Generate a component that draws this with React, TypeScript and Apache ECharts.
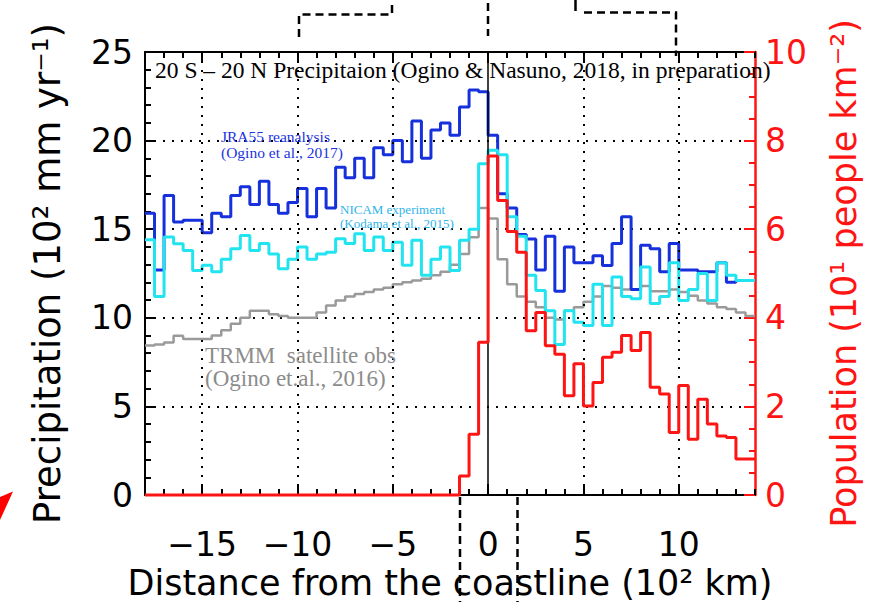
import React, { useEffect, useRef } from "react";
import * as echarts from "echarts";

// Histogram bins: 0.5 (10^2 km) wide, starting at -18
const BIN_START = -18;
const BIN_WIDTH = 0.5;

// JRA55 reanalysis precipitation (10^2 mm/yr)
const jra55 = [
  15.9, 12.7, 16.9, 15.4, 15.5, 15.5, 14.8, 15.9, 15.7, 16.9,
  17.4, 16.4, 17.7, 16.4, 15.9, 16.5, 17.3, 15.7, 17.3, 16.2,
  18.5, 17.9, 19.0, 17.9, 19.6, 19.2, 20.0, 18.8, 21.1, 19.0,
  20.6, 21.0, 20.3, 21.9, 22.85, 22.75, 20.3, 17.0, 16.2, 14.7,
  14.45, 12.7, 14.6, 11.5, 14.0, 13.1, 13.1, 13.5, 12.95, 14.2,
  15.7, 11.6, 14.1, 13.9, 12.6, 14.2, 12.7, 12.7, 12.6, 12.6,
  13.1, 12.0, 12.1, 12.1,
];

// NICAM experiment precipitation (10^2 mm/yr)
const nicam = [
  14.4, 11.2, 14.56, 14.18, 13.8, 12.67, 12.96, 12.6, 13.3, 13.9,
  14.65, 13.8, 14.2, 13.6, 12.77, 13.3, 14.0, 13.3, 13.6, 13.7,
  14.46, 14.2, 14.74, 13.8, 14.56, 13.8, 14.27, 12.96, 14.37, 12.4,
  13.3, 14.0, 12.67, 14.37, 15.0, 18.7, 19.45, 19.2, 15.7, 14.6,
  12.4, 11.54, 10.4, 8.5, 10.4, 9.75, 9.56, 11.9, 9.56, 12.3,
  11.2, 11.07, 12.86, 10.8, 11.2, 13.1, 10.97, 11.6, 12.5, 10.97,
  13.1, 12.4, 12.1, 12.1,
];

// TRMM satellite observation precipitation (10^2 mm/yr)
const trmm = [
  8.43, 8.5, 8.6, 8.98, 8.8, 8.8, 8.8, 9.0, 9.3, 9.66,
  10.0, 10.4, 10.4, 10.2, 10.1, 10.0, 10.0, 10.0, 10.3, 10.7,
  10.97, 11.2, 11.35, 11.45, 11.6, 11.7, 11.9, 12.0, 12.1, 12.2,
  12.4, 12.6, 13.0, 13.6, 14.55, 16.2, 15.6, 13.3, 11.9, 11.2,
  10.9, 10.6, 10.0, 9.9, 10.4, 10.6, 10.9, 11.2, 11.8, 11.7,
  11.6, 11.6, 11.8, 11.5, 11.5, 11.6, 11.45, 11.25, 10.97, 10.8,
  10.6, 10.5, 10.3, 10.1,
];

// Population density (10^1 people/km^2)
const population = [
  0, 0, 0, 0, 0, 0, 0, 0, 0, 0,
  0, 0, 0, 0, 0, 0, 0, 0, 0, 0,
  0, 0, 0, 0, 0, 0, 0, 0, 0, 0,
  0, 0, 0, 0.43, 1.37, 3.45, 7.65, 6.65, 5.95, 5.48,
  3.71, 4.12, 3.37, 3.18, 2.24, 2.96, 2.01, 2.54, 3.11, 3.22,
  3.6, 3.26, 3.67, 2.43, 2.28, 1.41, 2.47, 1.26, 2.16, 1.6,
  1.33, 1.3, 0.81, 0.81,
];

const X_MIN = -18;
const X_MAX = 14;
const X_MAJOR = [-15, -10, -5, 0, 5, 10];
const X_GRID = [-15, -10, -5, 5, 10];

const SANS = "DejaVu Sans";
const SERIF = "Liberation Serif";
const BLUE = "#1630dc";
const CYAN = "#22e4f0";
const GRAY = "#9a9a9a";
const RED = "#ff1414";

function stepData(vals: number[]): number[][] {
  const pts = vals.map((v, i) => [BIN_START + i * BIN_WIDTH, v]);
  pts.push([BIN_START + vals.length * BIN_WIDTH, vals[vals.length - 1]]);
  return pts;
}

const fmtX = (v: number) => (v < 0 ? "\u2212" + Math.abs(v) : String(v));

const dotted = () => ({ type: [2, 7], color: "#000", width: 2 });
const axisLineOf = (color: string, show = true) => ({
  show,
  onZero: false,
  lineStyle: { color, width: 2 },
});
const tickOf = (color: string, length: number, custom?: number[]) => {
  const t: any = { show: true, inside: true, length, lineStyle: { color, width: 2 } };
  if (custom) t.customValues = custom;
  return t;
};

export default function App() {
  const ref = useRef<HTMLDivElement>(null);
  useEffect(() => {
    if (!ref.current) return;
    const chart = echarts.init(ref.current, null, { renderer: "svg" });
    const baseX = () => ({
      type: "value",
      min: X_MIN,
      max: X_MAX,
      gridIndex: 0,
      splitLine: { show: false },
    });
    const option: any = {
      animation: false,
      backgroundColor: "#fff",
      grid: { left: 145, right: 115, top: 52, bottom: 107, outerBoundsMode: "none" },
      xAxis: [
        {
          ...baseX(),
          position: "bottom",
          axisLine: axisLineOf("#000"),
          axisTick: tickOf("#000", 11, X_MAJOR),
          axisLabel: {
            show: true,
            customValues: X_MAJOR,
            formatter: fmtX,
            fontFamily: SANS,
            fontSize: 33,
            color: "#000",
            margin: 33,
          },
          name: "Distance from the coastline (10\u00b2 km)",
          nameLocation: "middle",
          nameGap: 60,
          nameTextStyle: { fontFamily: SANS, fontSize: 35, color: "#000" },
        },
        {
          ...baseX(),
          position: "bottom",
          interval: 1,
          axisLine: axisLineOf("#000", false),
          axisTick: tickOf("#000", 6),
          axisLabel: { show: false },
        },
        {
          ...baseX(),
          position: "top",
          axisLine: axisLineOf("#000"),
          axisTick: tickOf("#000", 11, X_MAJOR),
          axisLabel: { show: false },
        },
        {
          ...baseX(),
          position: "top",
          interval: 1,
          axisLine: axisLineOf("#000", false),
          axisTick: tickOf("#000", 6),
          axisLabel: { show: false },
        },
      ],
      yAxis: [
        {
          type: "value",
          position: "left",
          min: 0,
          max: 25,
          interval: 5,
          axisLine: axisLineOf("#000"),
          axisTick: tickOf("#000", 11),
          minorTick: {
            show: true,
            splitNumber: 5,
            length: 6,
            lineStyle: { color: "#000", width: 2 },
          },
          axisLabel: {
            fontFamily: SANS,
            fontSize: 33,
            color: "#000",
            margin: 12,
          },
          splitLine: { show: true, lineStyle: dotted() },
          name: "Precipitation (10\u00b2 mm yr\u207b\u00b9)",
          nameLocation: "middle",
          nameRotate: 90,
          nameGap: 79,
          nameTextStyle: { fontFamily: SANS, fontSize: 37, color: "#000" },
        },
        {
          type: "value",
          position: "right",
          min: 0,
          max: 10,
          interval: 2,
          axisLine: { show: true, onZero: false, lineStyle: { color: RED, width: 2.5 } },
          axisTick: tickOf(RED, 11),
          minorTick: {
            show: true,
            splitNumber: 4,
            length: 6,
            lineStyle: { color: RED, width: 2 },
          },
          axisLabel: {
            fontFamily: SANS,
            fontSize: 33,
            color: RED,
            margin: 10,
          },
          splitLine: { show: false },
          name: "Population (10\u00b9 people km\u207b\u00b2)",
          nameLocation: "middle",
          nameRotate: 90,
          nameGap: 71,
          nameTextStyle: { fontFamily: SANS, fontSize: 35, color: RED },
        },
      ],
      series: [
        {
          name: "TRMM",
          type: "line",
          step: "end",
          xAxisIndex: 0,
          yAxisIndex: 0,
          symbol: "none",
          data: stepData(trmm),
          lineStyle: { color: GRAY, width: 2.5 },
          z: 2,
          markLine: {
            silent: true,
            symbol: "none",
            label: { show: false },
            data: X_GRID.map((v) => ({ xAxis: v, lineStyle: dotted() })),
          },
        },
        {
          name: "JRA55",
          type: "line",
          step: "end",
          xAxisIndex: 0,
          yAxisIndex: 0,
          symbol: "none",
          data: stepData(jra55),
          lineStyle: { color: BLUE, width: 3 },
          z: 3,
        },
        {
          name: "NICAM",
          type: "line",
          step: "end",
          xAxisIndex: 0,
          yAxisIndex: 0,
          symbol: "none",
          data: stepData(nicam),
          lineStyle: { color: CYAN, width: 3 },
          z: 4,
        },
        {
          name: "Population",
          type: "line",
          step: "end",
          xAxisIndex: 0,
          yAxisIndex: 1,
          symbol: "none",
          clip: false,
          data: stepData(population),
          lineStyle: { color: RED, width: 3 },
          z: 5,
          markLine: {
            silent: true,
            symbol: "none",
            label: { show: false },
            data: [{ xAxis: 0, lineStyle: { type: "solid", color: "#000", width: 1.5 } }],
          },
        },
      ],
      graphic: [
        {
          type: "text",
          x: 155,
          y: 70,
          z: 10,
          style: {
            text: "20 S \u2013 20 N Precipitaion (Ogino & Nasuno, 2018, in preparation)",
            font: `23.5px "${SERIF}"`,
            fill: "#000",
            verticalAlign: "middle",
          },
        },
        {
          type: "text",
          x: 221,
          y: 128,
          z: 10,
          style: {
            text: "JRA55 reanalysis\n(Ogino et al., 2017)",
            font: `15.5px "${SERIF}"`,
            lineHeight: 16,
            fill: "#2233e0",
            verticalAlign: "top",
          },
        },
        {
          type: "text",
          x: 340,
          y: 202,
          z: 10,
          style: {
            text: "NICAM experiment\n(Kodama et al., 2015)",
            font: `13px "${SERIF}"`,
            lineHeight: 14,
            fill: "#30b4ea",
            verticalAlign: "top",
          },
        },
        {
          type: "text",
          x: 205,
          y: 344,
          z: 10,
          style: {
            text: "TRMM  satellite obs\n(Ogino et.al., 2016)",
            font: `23px "${SERIF}"`,
            lineHeight: 23,
            fill: "#8c8c8c",
            verticalAlign: "top",
          },
        },
        // dashed annotation frames cropped from the original figure
        {
          type: "polyline",
          z: 10,
          shape: { points: [[299, 37], [299, 14.5], [392, 14.5], [392, 0]] },
          style: { stroke: "#000", lineWidth: 2.5, lineDash: [8, 5], fill: null },
        },
        {
          type: "line",
          z: 10,
          shape: { x1: 488, y1: 3, x2: 488, y2: 36 },
          style: { stroke: "#000", lineWidth: 2.5, lineDash: [8, 5] },
        },
        {
          type: "line",
          z: 10,
          shape: { x1: 575.5, y1: 0, x2: 575.5, y2: 11 },
          style: { stroke: "#000", lineWidth: 2.5 },
        },
        {
          type: "polyline",
          z: 10,
          shape: { points: [[584, 12.5], [676, 12.5], [676, 56]] },
          style: { stroke: "#000", lineWidth: 2.5, lineDash: [8, 5], fill: null },
        },
        {
          type: "line",
          z: 10,
          shape: { x1: 460, y1: 497, x2: 460, y2: 602 },
          style: { stroke: "#000", lineWidth: 2.5, lineDash: [8, 5] },
        },
        {
          type: "line",
          z: 10,
          shape: { x1: 517.5, y1: 497, x2: 517.5, y2: 602 },
          style: { stroke: "#000", lineWidth: 2.5, lineDash: [8, 5] },
        },
        {
          type: "polygon",
          z: 10,
          shape: { points: [[0, 497], [13, 491.5], [0, 520]] },
          style: { fill: "#ff0000" },
        },
      ],
    };
    chart.setOption(option);
    return () => chart.dispose();
  }, []);
  return (
    <div
      ref={ref}
      style={{ position: "fixed", left: 0, top: 0, width: 870, height: 602, background: "#fff" }}
    />
  );
}
